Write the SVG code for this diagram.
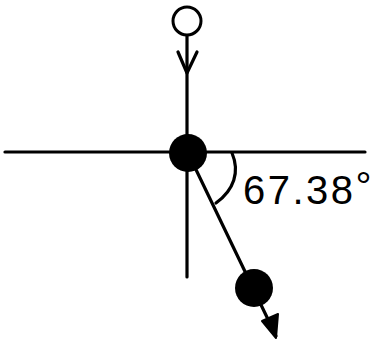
<svg xmlns="http://www.w3.org/2000/svg" width="376" height="342" viewBox="0 0 376 342">
<style>
.ln{stroke:#000;stroke-width:3.2;fill:none;stroke-linecap:round;stroke-linejoin:round}
.lbl{font-family:"Liberation Sans",Arial,sans-serif;font-size:40px;fill:#000;letter-spacing:2.5px}
</style>
<rect width="376" height="342" fill="#fff"/>
<g id="connectors">
<line class="ln" x1="5" y1="152" x2="365" y2="152"/>
<line class="ln" x1="187" y1="35" x2="187" y2="277"/>
<path class="ln" d="M178 52 L187 73 L197 52"/>
<line class="ln" x1="188" y1="153" x2="276" y2="336"/>
<path d="M276 338 L262 321 L278 314 Z" fill="#000" stroke="#000" stroke-width="2" stroke-linejoin="round"/>
<path class="ln" d="M232 153 C240 172, 234 190, 216 203"/>
</g>
<g id="node-top"><circle cx="187" cy="21" r="14" fill="#fff" stroke="#000" stroke-width="3"/></g>
<g id="node-center"><circle cx="188" cy="153" r="19" fill="#000"/></g>
<g id="node-bottom"><circle cx="254" cy="288" r="19" fill="#000"/></g>
<g id="label"><text class="lbl" x="243" y="204">67.38<tspan dy="-4" font-size="40px" letter-spacing="0">°</tspan></text></g>
</svg>
